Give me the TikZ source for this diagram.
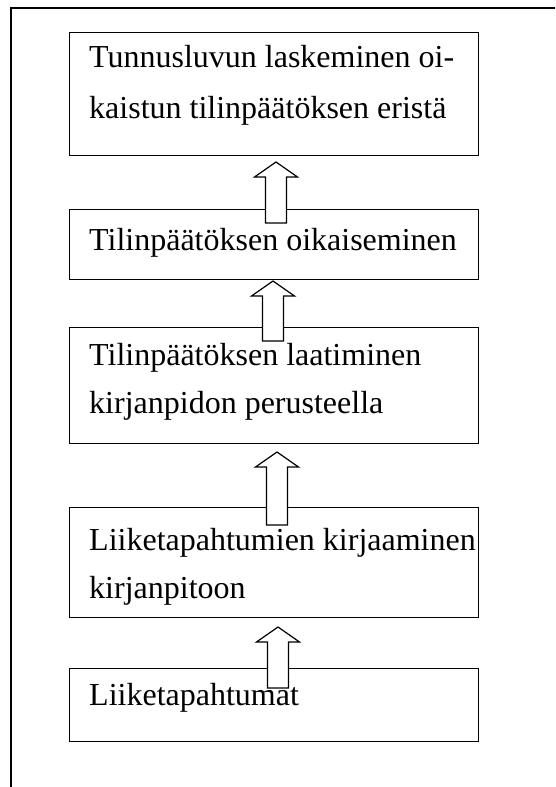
\documentclass[tikz,border=0pt]{standalone}
\usepackage{fontspec}
\setmainfont{Liberation Serif}
\begin{document}
\begin{tikzpicture}[x=1pt,y=-1pt,
  box/.style={draw, line width=1.3pt, anchor=north west, inner sep=0pt, minimum width=409pt},
  lbl/.style={anchor=base west, inner sep=0pt, font=\fontsize{32}{38}\selectfont},
  frameline/.style={line width=1.3pt},
  blockarrow/.style={draw, line width=1.2pt, fill=white, line join=miter}]
\useasboundingbox (0,0) rectangle (555,787);
\coordinate (f0) at (555,8);
\coordinate (f1) at (11,8);
\coordinate (f2) at (11,787);
\draw[frameline] (f0) -- (f1) -- (f2);
% boxes
\node[box, minimum height=123pt] (b1) at (69,32) {};
\node[box, minimum height=70pt] (b2) at (69,209) {};
\node[box, minimum height=116pt] (b3) at (69,327) {};
\node[box, minimum height=110pt] (b4) at (69,507) {};
\node[box, minimum height=73pt] (b5) at (69,668) {};
% texts
\node[lbl] (t1a) at (89,67) {Tunnusluvun laskeminen oi-};
\node[lbl] (t1b) at (89,118) {kaistun tilinpäätöksen eristä};
\node[lbl] (t2) at (89,250) {Tilinpäätöksen oikaiseminen};
\node[lbl] (t3a) at (89,365) {Tilinpäätöksen laatiminen};
\node[lbl] (t3b) at (89,413) {kirjanpidon perusteella};
\node[lbl] (t4a) at (89,550) {Liiketapahtumien kirjaaminen};
\node[lbl] (t4b) at (89,598) {kirjanpitoon};
\node[lbl] (t5) at (89,705) {Liiketapahtumat};
% block arrows: #1 x centre, #2 tip y, #3 bottom y
\newcommand\blockup[3]{%
  \draw[blockarrow] ({#1-10.5},{#3}) -- ({#1-10.5},{#2+15}) -- ({#1-21.5},{#2+15})
    -- ({#1},{#2}) -- ({#1+21.5},{#2+15}) -- ({#1+10.5},{#2+15}) -- ({#1+10.5},{#3}) -- cycle;}
\blockup{276}{162}{223}
\blockup{273}{281}{341}
\blockup{277}{452}{525}
\blockup{278}{627}{688}
\end{tikzpicture}
\end{document}
